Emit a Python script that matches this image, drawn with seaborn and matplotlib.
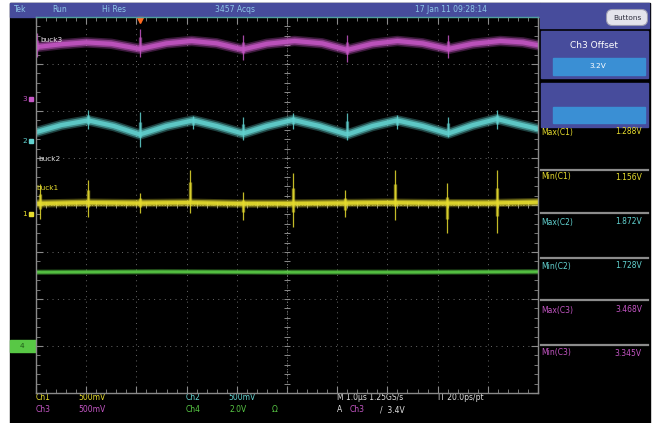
import numpy as np
import pandas as pd
import seaborn as sns
import matplotlib.pyplot as plt
from matplotlib.patches import Rectangle, FancyBboxPatch
from matplotlib.ticker import MultipleLocator

# time axis in microseconds (1.0 us/div), levels in screen divisions
t_ch3 = [0.0, 0.5, 1.0, 1.5, 2.07, 2.6, 3.1, 3.6, 4.12, 4.6, 5.15, 5.7,
         6.2, 6.7, 7.2, 7.7, 8.21, 8.7, 9.25, 9.7, 10.0]
v_ch3 = [3.36, 3.42, 3.46, 3.43, 3.32, 3.44, 3.49, 3.44, 3.31, 3.43, 3.49, 3.44,
         3.30, 3.43, 3.49, 3.44, 3.32, 3.43, 3.49, 3.46, 3.40]

t_ch2 = [0.0, 0.5, 1.04, 1.55, 2.07, 2.6, 3.13, 3.6, 4.12, 4.6, 5.12, 5.65,
         6.2, 6.7, 7.19, 7.7, 8.21, 8.7, 9.18, 9.6, 10.0]
v_ch2 = [1.55, 1.70, 1.80, 1.68, 1.50, 1.68, 1.80, 1.68, 1.52, 1.68, 1.81, 1.68,
         1.50, 1.68, 1.80, 1.68, 1.52, 1.70, 1.83, 1.72, 1.62]

t_ch1 = [0.0, 1.0, 2.0, 3.0, 4.0, 5.0, 6.0, 7.0, 8.0, 9.0, 10.0]
v_ch1 = [0.03, 0.05, 0.04, 0.05, 0.03, 0.03, 0.04, 0.05, 0.04, 0.04, 0.06]

t_ch4 = [0.0, 2.5, 5.0, 7.5, 10.0]
v_ch4 = [-1.43, -1.42, -1.43, -1.43, -1.42]

# switching spikes: time, top, bottom
sp1_t = [0.08, 1.04, 2.07, 3.07, 4.12, 5.12, 6.15, 7.15, 8.19, 9.18]
sp1_hi = [0.45, 0.53, 0.26, 0.74, 0.28, 0.68, 0.32, 0.74, 0.47, 0.74]
sp1_lo = [-0.30, -0.26, -0.17, -0.17, -0.32, -0.47, -0.26, -0.32, -0.60, -0.60]

sp2_t = [1.04, 2.07, 3.13, 4.12, 5.12, 6.2, 7.19, 8.21, 9.18]
sp2_hi = [2.02, 1.98, 1.90, 1.87, 1.96, 1.96, 1.92, 1.87, 2.02]
sp2_lo = [1.62, 1.23, 1.62, 1.38, 1.62, 1.38, 1.62, 1.45, 1.62]

sp3_t = [0.02, 2.07, 4.12, 6.2, 8.21]
sp3_hi = [3.66, 3.75, 3.62, 3.62, 3.62]
sp3_lo = [3.15, 3.15, 3.09, 3.04, 3.13]

meas_names = ["Max(C1)", "Min(C1)", "Max(C2)", "Min(C2)", "Max(C3)", "Min(C3)"]
meas_values = ["1.288V", "1.156V", "1.872V", "1.728V", "3.468V", "3.345V"]

YEL = "#e6dc2e"
CYA = "#62d2d0"
MAG = "#c456c4"
GRN = "#58c845"
BLUE = "#474c9c"
LBLUE = "#3a8fd4"

fig = plt.figure(figsize=(6.52, 4.23), dpi=100)
fig.patch.set_facecolor("white")

# background / chrome in pixel coordinates
bg = fig.add_axes([0, 0, 1, 1], zorder=0)
bg.set_xlim(0, 652)
bg.set_ylim(423, 0)
bg.axis("off")
bg.add_patch(Rectangle((10, 3), 640, 420, color="black"))
bg.add_patch(Rectangle((10, 3), 530, 14, color=BLUE))
bg.add_patch(Rectangle((540, 3), 109, 25, color=BLUE))
bg.add_patch(FancyBboxPatch((608, 11), 38, 13, boxstyle="round,pad=1.5,rounding_size=6",
                            fc="#e4e4ec", ec="#9a9ab0", lw=0.8))
bg.text(627, 17.5, "Buttons", color="#303040", fontsize=5.3, ha="center", va="center")
bg.add_patch(Rectangle((541, 31), 107, 47, color=BLUE))
bg.add_patch(Rectangle((553, 58), 92, 17, color=LBLUE))
bg.text(594, 45, "Ch3 Offset", color="white", fontsize=6.5, ha="center", va="center")
bg.text(598, 66.5, "3.2V", color="white", fontsize=5.3, ha="center", va="center")
bg.add_patch(Rectangle((541, 83), 107, 44, color=BLUE))
bg.add_patch(Rectangle((553, 107), 92, 16, color=LBLUE))

top_items = [(14, "Tek"), (52, "Run"), (102, "Hi Res"), (215, "3457 Acqs"),
             (415, "17 Jan 11 09:28:14")]
for x, s in top_items:
    bg.text(x, 10, s, color="#8fc8e8", fontsize=5.5, va="center")

meas_colors = [YEL, YEL, CYA, CYA, MAG, MAG]
meas_y = [132, 177, 222, 266, 310, 353]
for yy in [170, 213, 258, 300, 345]:
    bg.plot([541, 648], [yy, yy], color="#8c8c8c", lw=1.6)
for name, val, c, yy in zip(meas_names, meas_values, meas_colors, meas_y):
    bg.text(541, yy, name, color=c, fontsize=5.5, va="center")
    bg.text(642, yy, val, color=c, fontsize=5.5, va="center", ha="right")

# channel markers on the left
bg.text(22, 99, "3", color=MAG, fontsize=5.3, va="center")
bg.plot([31], [99], marker="s", color=MAG, ms=2.5)
bg.text(22, 141, "2", color=CYA, fontsize=5.3, va="center")
bg.plot([31], [141], marker="s", color=CYA, ms=2.5)
bg.text(22, 214, "1", color=YEL, fontsize=5.3, va="center")
bg.plot([31], [214], marker="s", color=YEL, ms=2.5)
bg.add_patch(Rectangle((10, 340), 26, 12, color=GRN))
bg.text(20, 346, "4", color="#1f5a18", fontsize=5.3, va="center")

# bottom status lines
bottom = [(36, 398, "Ch1", YEL), (78, 398, "500mV", YEL),
          (186, 398, "Ch2", CYA), (228, 398, "500mV", CYA),
          (36, 410, "Ch3", MAG), (78, 410, "500mV", MAG),
          (186, 410, "Ch4", GRN), (230, 410, "2.0V", GRN), (272, 410, "\u03a9", GRN),
          (337, 398, "M 1.0\u00b5s 1.25GS/s", "#e0e0e0"), (438, 398, "IT 20.0ps/pt", "#e0e0e0"),
          (337, 410, "A", "#e0e0e0"), (350, 410, "Ch3", MAG), (380, 410, "/  3.4V", "#e0e0e0")]
for x, y, s, c in bottom:
    bg.text(x, y, s, color=c, fontsize=5.5, va="center")

# scope screen
ax = fig.add_axes([36 / 652, 30 / 423, 502 / 652, 376 / 423], zorder=1)
ax.set_facecolor("black")
ax.set_xlim(0, 10)
ax.set_ylim(-4, 4)
ax.xaxis.set_major_locator(MultipleLocator(1))
ax.yaxis.set_major_locator(MultipleLocator(1))
ax.xaxis.set_minor_locator(MultipleLocator(0.2))
ax.yaxis.set_minor_locator(MultipleLocator(0.2))
ax.tick_params(which="both", direction="in", top=True, right=True, color="#8a8a8a",
               labelbottom=False, labelleft=False)
ax.tick_params(which="major", length=5, width=0.8)
ax.tick_params(which="minor", length=3, width=0.6)
ax.grid(True, which="major", color="#6a6a6a", lw=0.7, ls=(0, (1, 4.5)))
for s in ax.spines.values():
    s.set_color("#8a8a8a")
    s.set_linewidth(1)
ax.spines["top"].set_color("#4fa0a0")

# center crosshair with fine ticks
ax.axvline(5, color="#7a7a7a", lw=0.7, ls=(0, (1, 2)))
ax.axhline(0, color="#7a7a7a", lw=0.7, ls=(0, (1, 2)))
fine = np.arange(-4, 4.01, 0.2)
ax.plot(np.full(fine.size, 5.0), fine, ls="none", marker="_", ms=5, color="#8a8a8a", mew=0.7)
fine_x = np.arange(0, 10.01, 0.2)
ax.plot(fine_x, np.zeros(fine_x.size), ls="none", marker="|", ms=5, color="#8a8a8a", mew=0.7)

traces = [(t_ch3, v_ch3, MAG, 7.5), (t_ch2, v_ch2, CYA, 7.5),
          (t_ch1, v_ch1, YEL, 6.0), (t_ch4, v_ch4, GRN, 4.0)]
for t, v, c, w in traces:
    df = pd.DataFrame({"t": t, "v": v})
    # soft layered band to imitate the fuzzy phosphor trace
    sns.lineplot(data=df, x="t", y="v", ax=ax, color=c, lw=w, alpha=0.3)
    sns.lineplot(data=df, x="t", y="v", ax=ax, color=c, lw=w * 0.7, alpha=0.55)
    sns.lineplot(data=df, x="t", y="v", ax=ax, color=c, lw=w * 0.4, alpha=0.85)

for t, hi, lo, c in [(sp1_t, sp1_hi, sp1_lo, YEL), (sp2_t, sp2_hi, sp2_lo, CYA),
                     (sp3_t, sp3_hi, sp3_lo, MAG)]:
    ax.vlines(t, lo, hi, color=c, lw=0.9, alpha=0.85)
    mid = (np.array(hi) + np.array(lo)) / 2
    half = (np.array(hi) - np.array(lo)) * 0.22
    ax.vlines(t, mid - half, mid + half, color=c, lw=2.4, alpha=0.6)

ax.set_xlabel("")
ax.set_ylabel("")

ax.text(0.08, 3.51, "buck3", color="#e8e0e8", fontsize=5.3, va="center")
ax.text(0.04, 0.98, "buck2", color="#d8d8d8", fontsize=5.3, va="center")
ax.text(0.0, 0.36, "buck1", color=YEL, fontsize=5.3, va="center")

# trigger position marker
ax.plot([2.07], [3.93], marker="v", color="#ff6a20", ms=5, clip_on=False)

fig.savefig("out.png", dpi=100, facecolor=fig.get_facecolor())
